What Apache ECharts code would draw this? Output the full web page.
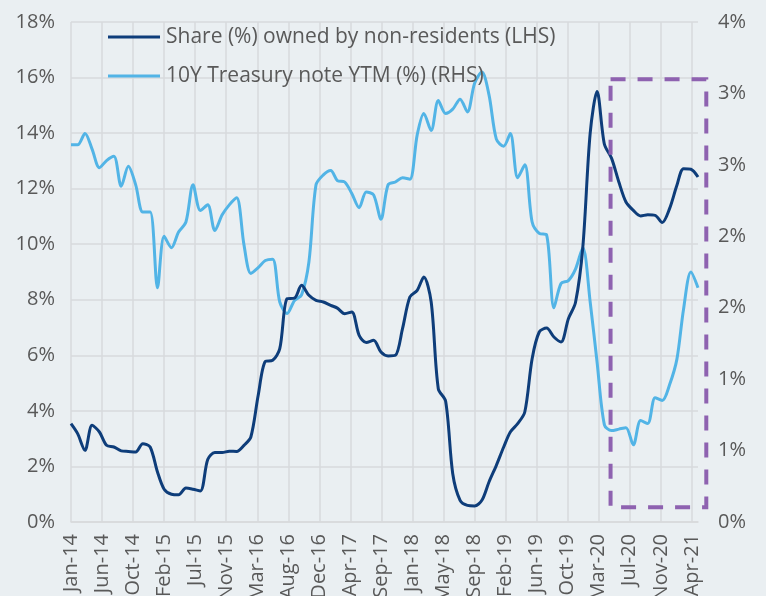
<!DOCTYPE html>
<html>
<head>
<meta charset="utf-8">
<script src="https://cdn.jsdelivr.net/npm/echarts@6/dist/echarts.min.js"></script>
<style>
html, body { margin: 0; padding: 0; background: #eaeff2; }
#chart { width: 766px; height: 596px; }
</style>
</head>
<body>
<div id="chart"></div>
<script>
// monthly data, month-end, Jan-2014 .. Apr-2021
var startYear = 2014;
var monthCount = 88;

var shareNonRes = [
  3.54, 3.18, 2.58, 3.48, 3.24, 2.76, 2.70, 2.56, 2.54, 2.52, 2.82, 2.70,
  1.80, 1.18, 1.00, 0.98, 1.22, 1.18, 1.12, 2.25, 2.50, 2.50, 2.55, 2.54,
  2.76, 3.06, 4.56, 5.78, 5.82, 6.24, 8.04, 8.06, 8.52, 8.16, 7.98, 7.92,
  7.80, 7.70, 7.50, 7.56, 6.72, 6.46, 6.54, 6.12, 5.98, 6.00, 6.96, 8.10,
  8.34, 8.82, 7.92, 4.80, 4.35, 1.74, 0.78, 0.60, 0.58, 0.78, 1.44, 2.04,
  2.70, 3.24, 3.54, 3.96, 5.88, 6.84, 6.98, 6.66, 6.48, 7.32, 7.90, 9.90,
  14.0, 15.5, 13.6, 13.1, 12.24, 11.52, 11.22, 11.02, 11.06, 11.04, 10.78, 11.28,
  12.12, 12.72, 12.70, 12.42
];

var tsyYield = [
  2.64, 2.64, 2.72, 2.61, 2.48, 2.53, 2.56, 2.35, 2.49, 2.36, 2.17, 2.17,
  1.64, 2.00, 1.92, 2.03, 2.10, 2.36, 2.18, 2.22, 2.04, 2.15, 2.22, 2.27,
  1.94, 1.74, 1.78, 1.83, 1.84, 1.54, 1.46, 1.55, 1.59, 1.82, 2.36, 2.43,
  2.46, 2.39, 2.38, 2.30, 2.20, 2.31, 2.29, 2.12, 2.36, 2.38, 2.41, 2.40,
  2.71, 2.86, 2.74, 2.95, 2.86, 2.89, 2.96, 2.87, 3.07, 3.15, 2.99, 2.68,
  2.63, 2.72, 2.41, 2.50, 2.10, 2.02, 2.01, 1.50, 1.67, 1.69, 1.77, 1.92,
  1.54, 1.12, 0.68, 0.64, 0.65, 0.66, 0.54, 0.71, 0.69, 0.87, 0.85, 0.96,
  1.14, 1.49, 1.75, 1.64
];

var xTickLabels = ['Jan-14', 'Jun-14', 'Oct-14', 'Feb-15', 'Jul-15', 'Nov-15', 'Mar-16',
  'Aug-16', 'Dec-16', 'Apr-17', 'Sep-17', 'Jan-18', 'May-18', 'Sep-18', 'Feb-19',
  'Jun-19', 'Oct-19', 'Mar-20', 'Jul-20', 'Nov-20', 'Apr-21'];
var tickStep = 131;  // days between x ticks

var seriesNames = ['Share (%) owned by non-residents (LHS)', '10Y Treasury note YTM (%) (RHS)'];

// highlight box: [days, LHS value] corners
var boxFrom = [2277, 15.94];
var boxTo = [2681, 0.53];

var DAY = 86400000;
var t0 = Date.UTC(startYear, 0, 31);

function pairs(vals) {
  var out = [];
  for (var i = 0; i < vals.length; i++) {
    var d = (Date.UTC(startYear, i + 1, 0) - t0) / DAY;  // month end
    out.push([d, vals[i]]);
  }
  return out;
}

var txt = '#595959';
var font = 'Open Sans';
var gridColor = '#d7dadc';

var chart = echarts.init(document.getElementById('chart'), null, { renderer: 'canvas' });

var lastDay = (Date.UTC(startYear, monthCount, 0) - t0) / DAY;

var option = {
  backgroundColor: '#eaeff2',
  animation: false,
  grid: { left: 71, right: 68, top: 22, bottom: 74, outerBoundsMode: 'none', containLabel: false },
  legend: {
    orient: 'vertical',
    left: 108,
    top: 25,
    icon: 'rect',
    itemWidth: 52,
    itemHeight: 3,
    itemGap: 15,
    padding: 0,
    textStyle: { fontSize: 21, lineHeight: 24, color: txt, fontFamily: font, padding: [0, 0, 0, 1] },
    data: seriesNames
  },
  xAxis: {
    type: 'value',
    min: 0,
    max: lastDay,
    interval: tickStep,
    axisLine: { show: true, lineStyle: { color: gridColor, width: 1.5 } },
    axisTick: { show: false },
    splitLine: { show: true, showMaxLine: false, lineStyle: { color: gridColor, width: 1.5 } },
    axisLabel: {
      rotate: 90,
      margin: 12,
      fontSize: 20,
      color: txt,
      fontFamily: font,
      showMaxLabel: false,
      formatter: function (v) {
        var i = Math.round(v / tickStep);
        return (Math.abs(v - i * tickStep) < 1e-6 && xTickLabels[i]) ? xTickLabels[i] : '';
      }
    }
  },
  yAxis: [{
    type: 'value',
    min: 0,
    max: 18,
    interval: 2,
    axisLine: { show: false },
    axisTick: { show: false },
    splitLine: { lineStyle: { color: gridColor, width: 1.5 } },
    axisLabel: { fontSize: 20, color: txt, fontFamily: font, margin: 16, formatter: '{value}%' }
  }, {
    type: 'value',
    min: 0,
    max: 3.5,
    interval: 0.5,
    axisLine: { show: false },
    axisTick: { show: false },
    splitLine: { show: false },
    axisLabel: {
      fontSize: 20, color: txt, fontFamily: font, margin: 20,
      formatter: function (v) { return Math.round(v) + '%'; }
    }
  }],
  series: [{
    name: seriesNames[0],
    type: 'line',
    yAxisIndex: 0,
    data: pairs(shareNonRes),
    symbol: 'none',
    smooth: 0.3,
    clip: false,
    lineStyle: { color: '#0e3d7a', width: 3 },
    itemStyle: { color: '#0e3d7a' },
    z: 3
  }, {
    name: seriesNames[1],
    type: 'line',
    yAxisIndex: 1,
    data: pairs(tsyYield),
    symbol: 'none',
    smooth: 0.3,
    clip: false,
    lineStyle: { color: '#52b4e6', width: 3 },
    itemStyle: { color: '#52b4e6' },
    z: 2
  }]
};

chart.setOption(option);

// dashed highlight box, placed from data coordinates
var p1 = chart.convertToPixel({ xAxisIndex: 0, yAxisIndex: 0 }, boxFrom);
var p2 = chart.convertToPixel({ xAxisIndex: 0, yAxisIndex: 0 }, boxTo);
chart.setOption({
  graphic: [{
    type: 'rect',
    z: 10,
    shape: { x: p1[0], y: p1[1], width: p2[0] - p1[0], height: p2[1] - p1[1] },
    style: { fill: null, stroke: '#8e62b0', lineWidth: 4, lineDash: [15, 12] }
  }]
});
</script>
</body>
</html>
